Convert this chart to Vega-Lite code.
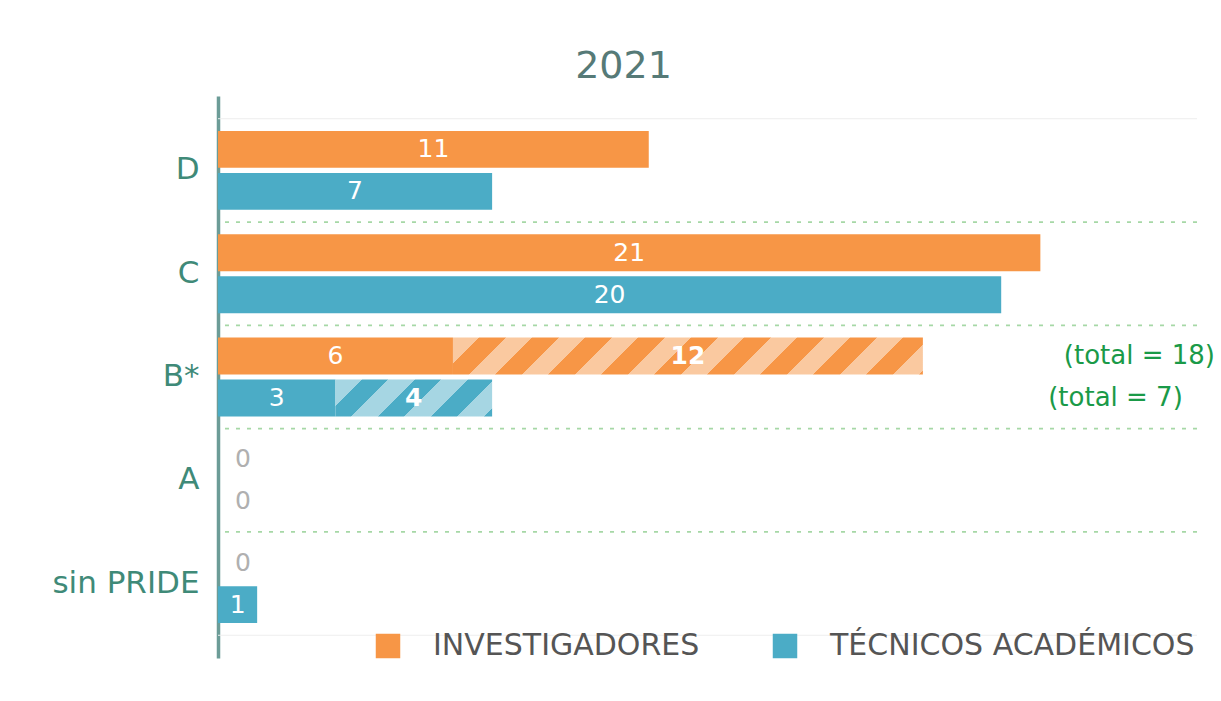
{
  "$schema": "https://vega.github.io/schema/vega-lite/v6.json",
  "width": 979,
  "height": 562,
  "autosize": "none",
  "padding": {"left": 218, "top": 96, "right": 24, "bottom": 43},
  "background": "white",
  "config": {
    "font": "DejaVu Sans",
    "view": {"stroke": null}
  },
  "title": {
    "text": "2021",
    "fontSize": 38,
    "fontWeight": "normal",
    "color": "#567a77",
    "anchor": "middle",
    "frame": "group",
    "dx": -84,
    "offset": 10
  },
  "datasets": {
    "bars": [
      {"cat": "D", "tipo": "INVESTIGADORES", "part": "base", "value": 11},
      {"cat": "D", "tipo": "TÉCNICOS ACADÉMICOS", "part": "base", "value": 7},
      {"cat": "C", "tipo": "INVESTIGADORES", "part": "base", "value": 21},
      {"cat": "C", "tipo": "TÉCNICOS ACADÉMICOS", "part": "base", "value": 20},
      {"cat": "B*", "tipo": "INVESTIGADORES", "part": "base", "value": 6},
      {"cat": "B*", "tipo": "INVESTIGADORES", "part": "extra", "value": 12},
      {"cat": "B*", "tipo": "TÉCNICOS ACADÉMICOS", "part": "base", "value": 3},
      {"cat": "B*", "tipo": "TÉCNICOS ACADÉMICOS", "part": "extra", "value": 4},
      {"cat": "A", "tipo": "INVESTIGADORES", "part": "base", "value": 0},
      {"cat": "A", "tipo": "TÉCNICOS ACADÉMICOS", "part": "base", "value": 0},
      {"cat": "sin PRIDE", "tipo": "INVESTIGADORES", "part": "base", "value": 0},
      {"cat": "sin PRIDE", "tipo": "TÉCNICOS ACADÉMICOS", "part": "base", "value": 1}
    ],
    "cats": [
      {"cat": "D"}, {"cat": "C"}, {"cat": "B*"}, {"cat": "A"}, {"cat": "sin PRIDE"}
    ],
    "totals": [
      {"cat": "B*", "tipo": "INVESTIGADORES", "label": "(total = 18)"},
      {"cat": "B*", "tipo": "TÉCNICOS ACADÉMICOS", "label": "(total = 7)"}
    ]
  },
  "layer": [
    {
      "data": {"name": "cats"},
      "transform": [{"filter": "datum.cat === 'D'"}],
      "mark": {"type": "rule", "color": "#eeeeee", "strokeWidth": 1},
      "encoding": {
        "y": {"field": "cat", "type": "nominal", "bandPosition": 0,
              "scale": {"domain": ["D", "C", "B*", "A", "sin PRIDE"], "paddingInner": 0, "paddingOuter": 0.22},
              "axis": {"title": null, "ticks": false, "grid": false, "domainColor": "#6c9c97", "domainWidth": 3.5,
                       "labelColor": "#3f8a78", "labelFontSize": 31, "labelPadding": 19, "labelFont": "DejaVu Sans"}}
      }
    },
    {
      "data": {"name": "cats"},
      "transform": [{"filter": "datum.cat === 'sin PRIDE'"}],
      "mark": {"type": "rule", "color": "#eeeeee", "strokeWidth": 1},
      "encoding": {
        "y": {"field": "cat", "type": "nominal", "bandPosition": 1}
      }
    },
    {
      "data": {"name": "cats"},
      "transform": [{"filter": "datum.cat !== 'D'"}],
      "mark": {"type": "rule", "color": "#a6d8a6", "strokeWidth": 1.8, "strokeDash": [4, 7]},
      "encoding": {
        "y": {"field": "cat", "type": "nominal", "bandPosition": 0}
      }
    },
    {
      "data": {"name": "bars"},
      "transform": [
        {"stack": "value", "groupby": ["cat", "tipo"], "sort": [{"field": "part", "order": "ascending"}], "as": ["x0", "x1"]},
        {"filter": "datum.part === 'base' && datum.value > 0"}
      ],
      "mark": {"type": "bar"},
      "encoding": {
        "y": {"field": "cat", "type": "nominal"},
        "yOffset": {"field": "tipo", "type": "nominal",
                    "scale": {"domain": ["INVESTIGADORES", "TÉCNICOS ACADÉMICOS"], "paddingInner": 0.12, "paddingOuter": 0.29}},
        "x": {"field": "x0", "type": "quantitative", "scale": {"domain": [0, 25], "nice": false}, "axis": null},
        "x2": {"field": "x1"},
        "color": {
          "field": "tipo", "type": "nominal",
          "scale": {"domain": ["INVESTIGADORES", "TÉCNICOS ACADÉMICOS"], "range": ["#F79646", "#4BACC6"]},
          "legend": {
            "title": null, "orient": "none", "legendX": 155, "legendY": 535, "direction": "horizontal",
            "symbolType": "square", "symbolSize": 600, "symbolStrokeWidth": 0, "symbolOpacity": 1,
            "labelFontSize": 30, "labelColor": "#555555", "labelFont": "DejaVu Sans", "labelOffset": 30,
            "columnPadding": 70, "padding": 0, "labelLimit": 600
          }
        }
      }
    },
    {
      "data": {"name": "bars"},
      "transform": [
        {"stack": "value", "groupby": ["cat", "tipo"], "sort": [{"field": "part", "order": "ascending"}], "as": ["x0", "x1"]},
        {"filter": "datum.part === 'extra' && datum.tipo === 'INVESTIGADORES'"}
      ],
      "mark": {"type": "bar", "fill": {
        "gradient": "linear", "x1": 0, "y1": 0, "x2": 1.072, "y2": 0.0844,
        "stops": [
          {"offset": 0, "color": "#FAC9A0"}, {"offset": 0.0523, "color": "#FAC9A0"},
          {"offset": 0.0523, "color": "#F79646"}, {"offset": 0.1045, "color": "#F79646"},
          {"offset": 0.1045, "color": "#FAC9A0"}, {"offset": 0.1568, "color": "#FAC9A0"},
          {"offset": 0.1568, "color": "#F79646"}, {"offset": 0.209, "color": "#F79646"},
          {"offset": 0.209, "color": "#FAC9A0"}, {"offset": 0.2613, "color": "#FAC9A0"},
          {"offset": 0.2613, "color": "#F79646"}, {"offset": 0.3135, "color": "#F79646"},
          {"offset": 0.3135, "color": "#FAC9A0"}, {"offset": 0.3658, "color": "#FAC9A0"},
          {"offset": 0.3658, "color": "#F79646"}, {"offset": 0.418, "color": "#F79646"},
          {"offset": 0.418, "color": "#FAC9A0"}, {"offset": 0.4703, "color": "#FAC9A0"},
          {"offset": 0.4703, "color": "#F79646"}, {"offset": 0.5225, "color": "#F79646"},
          {"offset": 0.5225, "color": "#FAC9A0"}, {"offset": 0.5748, "color": "#FAC9A0"},
          {"offset": 0.5748, "color": "#F79646"}, {"offset": 0.627, "color": "#F79646"},
          {"offset": 0.627, "color": "#FAC9A0"}, {"offset": 0.6793, "color": "#FAC9A0"},
          {"offset": 0.6793, "color": "#F79646"}, {"offset": 0.7315, "color": "#F79646"},
          {"offset": 0.7315, "color": "#FAC9A0"}, {"offset": 0.7838, "color": "#FAC9A0"},
          {"offset": 0.7838, "color": "#F79646"}, {"offset": 0.836, "color": "#F79646"},
          {"offset": 0.836, "color": "#FAC9A0"}, {"offset": 0.8883, "color": "#FAC9A0"},
          {"offset": 0.8883, "color": "#F79646"}, {"offset": 0.9405, "color": "#F79646"},
          {"offset": 0.9405, "color": "#FAC9A0"}, {"offset": 0.9928, "color": "#FAC9A0"},
          {"offset": 0.9928, "color": "#F79646"}, {"offset": 1, "color": "#F79646"}
        ]
      }},
      "encoding": {
        "y": {"field": "cat", "type": "nominal"},
        "yOffset": {"field": "tipo", "type": "nominal"},
        "x": {"field": "x0", "type": "quantitative"},
        "x2": {"field": "x1"}
      }
    },
    {
      "data": {"name": "bars"},
      "transform": [
        {"stack": "value", "groupby": ["cat", "tipo"], "sort": [{"field": "part", "order": "ascending"}], "as": ["x0", "x1"]},
        {"filter": "datum.part === 'extra' && datum.tipo === 'TÉCNICOS ACADÉMICOS'"}
      ],
      "mark": {"type": "bar", "fill": {
        "gradient": "linear", "x1": 0, "y1": 0, "x2": 1.1707, "y2": 0.2759,
        "stops": [
          {"offset": 0, "color": "#A6D6E3"}, {"offset": 0.1366, "color": "#A6D6E3"},
          {"offset": 0.1366, "color": "#4BACC6"}, {"offset": 0.2732, "color": "#4BACC6"},
          {"offset": 0.2732, "color": "#A6D6E3"}, {"offset": 0.4098, "color": "#A6D6E3"},
          {"offset": 0.4098, "color": "#4BACC6"}, {"offset": 0.5464, "color": "#4BACC6"},
          {"offset": 0.5464, "color": "#A6D6E3"}, {"offset": 0.683, "color": "#A6D6E3"},
          {"offset": 0.683, "color": "#4BACC6"}, {"offset": 0.8196, "color": "#4BACC6"},
          {"offset": 0.8196, "color": "#A6D6E3"}, {"offset": 0.9562, "color": "#A6D6E3"},
          {"offset": 0.9562, "color": "#4BACC6"}, {"offset": 1, "color": "#4BACC6"}
        ]
      }},
      "encoding": {
        "y": {"field": "cat", "type": "nominal"},
        "yOffset": {"field": "tipo", "type": "nominal"},
        "x": {"field": "x0", "type": "quantitative"},
        "x2": {"field": "x1"}
      }
    },
    {
      "data": {"name": "bars"},
      "transform": [
        {"stack": "value", "groupby": ["cat", "tipo"], "sort": [{"field": "part", "order": "ascending"}], "as": ["x0", "x1"]},
        {"filter": "datum.part === 'base' && datum.value > 0"},
        {"calculate": "(datum.x0 + datum.x1) / 2", "as": "mid"}
      ],
      "mark": {"type": "text", "color": "white", "fontSize": 25, "align": "center", "baseline": "middle"},
      "encoding": {
        "y": {"field": "cat", "type": "nominal"},
        "yOffset": {"field": "tipo", "type": "nominal"},
        "x": {"field": "mid", "type": "quantitative"},
        "text": {"field": "value", "type": "quantitative"}
      }
    },
    {
      "data": {"name": "bars"},
      "transform": [
        {"stack": "value", "groupby": ["cat", "tipo"], "sort": [{"field": "part", "order": "ascending"}], "as": ["x0", "x1"]},
        {"filter": "datum.part === 'extra'"},
        {"calculate": "(datum.x0 + datum.x1) / 2", "as": "mid"}
      ],
      "mark": {"type": "text", "color": "white", "fontSize": 25, "fontWeight": "bold", "align": "center", "baseline": "middle"},
      "encoding": {
        "y": {"field": "cat", "type": "nominal"},
        "yOffset": {"field": "tipo", "type": "nominal"},
        "x": {"field": "mid", "type": "quantitative"},
        "text": {"field": "value", "type": "quantitative"}
      }
    },
    {
      "data": {"name": "bars"},
      "transform": [
        {"filter": "datum.value === 0"}
      ],
      "mark": {"type": "text", "color": "#b0b0b0", "fontSize": 25, "align": "left", "baseline": "middle", "dx": 17},
      "encoding": {
        "y": {"field": "cat", "type": "nominal"},
        "yOffset": {"field": "tipo", "type": "nominal"},
        "x": {"field": "value", "type": "quantitative"},
        "text": {"field": "value", "type": "quantitative"}
      }
    },
    {
      "data": {"name": "totals"},
      "transform": [{"filter": "datum.tipo === 'INVESTIGADORES'"}],
      "mark": {"type": "text", "color": "#1a9a48", "fontSize": 26, "align": "left", "baseline": "middle"},
      "encoding": {
        "y": {"field": "cat", "type": "nominal"},
        "yOffset": {"field": "tipo", "type": "nominal"},
        "x": {"datum": 21.6, "type": "quantitative"},
        "text": {"field": "label", "type": "nominal"}
      }
    },
    {
      "data": {"name": "totals"},
      "transform": [{"filter": "datum.tipo === 'TÉCNICOS ACADÉMICOS'"}],
      "mark": {"type": "text", "color": "#1a9a48", "fontSize": 26, "align": "left", "baseline": "middle"},
      "encoding": {
        "y": {"field": "cat", "type": "nominal"},
        "yOffset": {"field": "tipo", "type": "nominal"},
        "x": {"datum": 21.2, "type": "quantitative"},
        "text": {"field": "label", "type": "nominal"}
      }
    }
  ]
}
